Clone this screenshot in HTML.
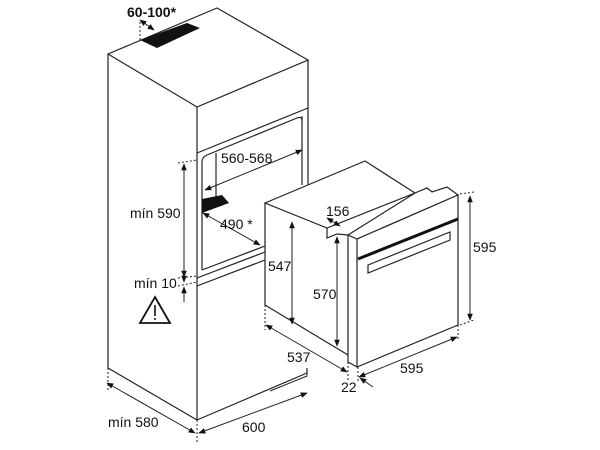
<!DOCTYPE html>
<html><head><meta charset="utf-8"><style>
html,body{margin:0;padding:0;background:#fff;}
svg{display:block;}
text{font-family:"Liberation Sans",sans-serif;font-size:14px;fill:#111;}
</style></head><body>
<svg width="600" height="450" viewBox="0 0 600 450" xmlns="http://www.w3.org/2000/svg">
<defs>
<marker id="a" viewBox="0 0 10 10" refX="9" refY="5" markerWidth="7" markerHeight="7" orient="auto-start-reverse"><path d="M0,1 L10,5 L0,9 z" fill="#111"/></marker>
</defs>
<g fill="none" stroke="#222" stroke-width="1.2">
<polygon points="108,54 217,8 308,60 197,107" fill="#fff"/>
<line x1="108" y1="54" x2="108" y2="368"/>
<line x1="197" y1="107" x2="197" y2="420"/>
<line x1="108" y1="368" x2="197" y2="420"/>
<line x1="197" y1="420" x2="307" y2="373"/>
<line x1="307" y1="373" x2="307" y2="368"/>
<line x1="308" y1="60" x2="308" y2="185"/>
<line x1="302" y1="116" x2="302" y2="185"/>
<line x1="197" y1="153" x2="308" y2="108"/>
<path d="M202,270 L202,162 Q202,157 207,155 L297,118 Q302,116 302,121"/>
<line x1="216" y1="153" x2="216" y2="197"/>
<line x1="202" y1="270" x2="265" y2="246"/>
<line x1="197" y1="278" x2="265" y2="252"/>
<line x1="197" y1="286" x2="265" y2="260"/>
</g>
<polygon points="140,40 187,23 200,28 157,48" fill="#111"/>
<polygon points="202,199 222,195 229,203 202,213" fill="#111"/>
<g fill="none" stroke="#222" stroke-width="1.2">
<polygon points="265,203 365,161 415,193 327,228" fill="#fff"/>
<line x1="265" y1="203" x2="265" y2="305"/>
<line x1="265" y1="305" x2="348" y2="355"/>
<polyline points="327,228 327,238 337,234 348,235"/>
<polygon points="348,235 415,193 427,188 432,192 447,187 458,195 357,239" fill="#fff"/>
<line x1="348" y1="235" x2="348" y2="362"/>
<polygon points="357,239 458,195 458,325 357,367" fill="#fff"/>
<line x1="348" y1="362" x2="357" y2="367"/>
<polygon points="368,265 450,232 450,240 368,273"/>
</g>
<line x1="358" y1="259" x2="458" y2="219" stroke="#111" stroke-width="3"/>
<g stroke="#222" stroke-width="1" fill="none">
<line x1="184" y1="164" x2="184" y2="277" marker-start="url(#a)" marker-end="url(#a)"/>
<line x1="178" y1="163" x2="197" y2="160" stroke-dasharray="2,2"/>
<line x1="178" y1="278" x2="197" y2="276" stroke-dasharray="2,2"/>
<line x1="178" y1="286" x2="197" y2="282" stroke-dasharray="2,2"/>
<line x1="184" y1="268" x2="184" y2="282" marker-end="url(#a)"/>
<line x1="184" y1="302" x2="184" y2="287" marker-end="url(#a)"/>
<line x1="205" y1="190" x2="302" y2="150" marker-start="url(#a)" marker-end="url(#a)"/>
<line x1="203" y1="213" x2="260" y2="245" marker-start="url(#a)" marker-end="url(#a)"/>
<line x1="140" y1="40" x2="140" y2="20" stroke-dasharray="2,2"/>
<line x1="140" y1="20" x2="154" y2="30" marker-start="url(#a)" marker-end="url(#a)"/>
<line x1="108" y1="368" x2="108" y2="390" stroke-dasharray="2,2"/>
<line x1="197" y1="420" x2="197" y2="442" stroke-dasharray="2,2"/>
<line x1="107" y1="383" x2="195" y2="433" marker-start="url(#a)" marker-end="url(#a)"/>
<line x1="199" y1="433" x2="307" y2="393" marker-start="url(#a)" marker-end="url(#a)"/>
<line x1="292" y1="222" x2="292" y2="324" marker-start="url(#a)" marker-end="url(#a)"/>
<line x1="337" y1="237" x2="337" y2="346" marker-start="url(#a)" marker-end="url(#a)"/>
<line x1="470" y1="196" x2="470" y2="320" marker-start="url(#a)" marker-end="url(#a)"/>
<line x1="460" y1="194" x2="474" y2="192" stroke-dasharray="2,2"/>
<line x1="460" y1="325" x2="474" y2="320" stroke-dasharray="2,2"/>
<line x1="265" y1="305" x2="265" y2="330" stroke-dasharray="2,2"/>
<line x1="348" y1="362" x2="348" y2="380" stroke-dasharray="2,2"/>
<line x1="358" y1="367" x2="358" y2="383" stroke-dasharray="2,2"/>
<line x1="458" y1="325" x2="458" y2="340" stroke-dasharray="2,2"/>
<line x1="266" y1="325" x2="347" y2="372" marker-start="url(#a)" marker-end="url(#a)"/>
<line x1="359" y1="377" x2="457" y2="337" marker-start="url(#a)" marker-end="url(#a)"/>
<line x1="373" y1="387" x2="360" y2="378" marker-end="url(#a)"/>
<line x1="327" y1="218" x2="340" y2="226" marker-start="url(#a)" marker-end="url(#a)"/>
<polyline points="307,370 307,376 270,391"/>
</g>
<polygon points="155,297 170,323 140,323" fill="none" stroke="#111" stroke-width="1.8"/>
<line x1="155" y1="305" x2="155" y2="316" stroke="#111" stroke-width="1.6"/>
<circle cx="155" cy="319" r="1" fill="#111"/>
<text x="127" y="17" font-weight="bold">60-100*</text>
<text x="221" y="163">560-568</text>
<text x="220" y="229">490 *</text>
<text x="130" y="218">mín 590</text>
<text x="134" y="288">mín 10</text>
<text x="108" y="427">mín 580</text>
<text x="242" y="432">600</text>
<text x="326" y="216">156</text>
<text x="268" y="271">547</text>
<text x="313" y="299">570</text>
<text x="473" y="252">595</text>
<text x="287" y="362">537</text>
<text x="400" y="373">595</text>
<text x="341" y="392">22</text>
</svg>
</body></html>
